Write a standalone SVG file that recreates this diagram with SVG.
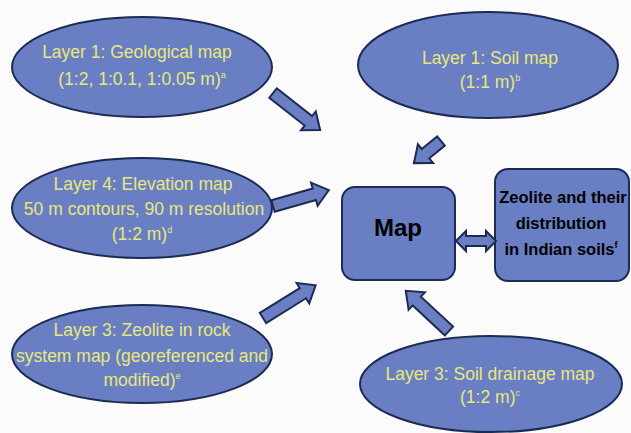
<svg xmlns="http://www.w3.org/2000/svg" width="631" height="433" viewBox="0 0 631 433">
<style>
.shape{fill:#6a7fc3;stroke:#1c2b52;stroke-width:2}
.lt{font-family:"Liberation Sans",Arial,sans-serif;font-size:17.5px;fill:#e8e87c;text-anchor:middle}
.bt{font-family:"Liberation Sans",Arial,sans-serif;font-weight:bold;fill:#000;text-anchor:middle}
.sup{font-size:9px}
</style>
<rect width="631" height="433" fill="#fbfbfb"/>
<g id="geological">
<ellipse class="shape" cx="142" cy="67" rx="130" ry="50"/>
<text class="lt" x="137" y="58">Layer 1: Geological map</text>
<text class="lt" x="142" y="85">(1:2, 1:0.1, 1:0.05 m)<tspan class="sup" dy="-7">a</tspan></text>
</g>
<g id="soilmap">
<ellipse class="shape" cx="488" cy="65" rx="130" ry="53"/>
<text class="lt" x="490" y="64">Layer 1: Soil map</text>
<text class="lt" x="490" y="88">(1:1 m)<tspan class="sup" dy="-7">b</tspan></text>
</g>
<g id="elevation">
<ellipse class="shape" cx="142" cy="208" rx="130" ry="50"/>
<text class="lt" x="143" y="190">Layer 4: Elevation map</text>
<text class="lt" x="144" y="215">50 m contours, 90 m resolution</text>
<text class="lt" x="142" y="240">(1:2 m)<tspan class="sup" dy="-7">d</tspan></text>
</g>
<g id="zeoliterock">
<ellipse class="shape" cx="142" cy="354" rx="130" ry="49"/>
<text class="lt" x="142" y="336">Layer 3: Zeolite in rock</text>
<text class="lt" x="142" y="362">system map (georeferenced and</text>
<text class="lt" x="142" y="386">modified)<tspan class="sup" dy="-7">e</tspan></text>
</g>
<g id="drainage">
<ellipse class="shape" cx="491" cy="384" rx="131" ry="48"/>
<text class="lt" x="490" y="380">Layer 3: Soil drainage map</text>
<text class="lt" x="490" y="403">(1:2 m)<tspan class="sup" dy="-7">c</tspan></text>
</g>
<g id="map">
<rect class="shape" x="342" y="187" width="113" height="93" rx="13"/>
<text class="bt" x="398" y="236" font-size="24">Map</text>
</g>
<g id="zeolite">
<rect class="shape" x="495" y="169" width="134" height="112" rx="13"/>
<text class="bt" x="563" y="203" font-size="16.5">Zeolite and their</text>
<text class="bt" x="561" y="229" font-size="16.5">distribution</text>
<text class="bt" x="561" y="255" font-size="16.5">in Indian soils<tspan class="sup" dy="-7">f</tspan></text>
</g>
<g id="connectors">
<path class="shape" transform="translate(273,93) rotate(38.2)" d="M0,-6 L45,-6 L45,-12 L60,0 L45,12 L45,6 L0,6 Z"/>
<path class="shape" transform="translate(441,141) rotate(140.8)" d="M0,-6 L20,-6 L20,-12 L35,0 L20,12 L20,6 L0,6 Z"/>
<path class="shape" transform="translate(273,206) rotate(-15.9)" d="M0,-6 L43,-6 L43,-12 L58,0 L43,12 L43,6 L0,6 Z"/>
<path class="shape" transform="translate(263,318) rotate(-31.9)" d="M0,-6 L47,-6 L47,-12 L62,0 L47,12 L47,6 L0,6 Z"/>
<path class="shape" transform="translate(449,331) rotate(-137.1)" d="M0,-6 L44,-6 L44,-12 L59,0 L44,12 L44,6 L0,6 Z"/>
<path class="shape" d="M456,241 L466,231 L466,236 L486,236 L486,231 L496,241 L486,251 L486,246 L466,246 L466,251 Z"/>
</g>
</svg>
